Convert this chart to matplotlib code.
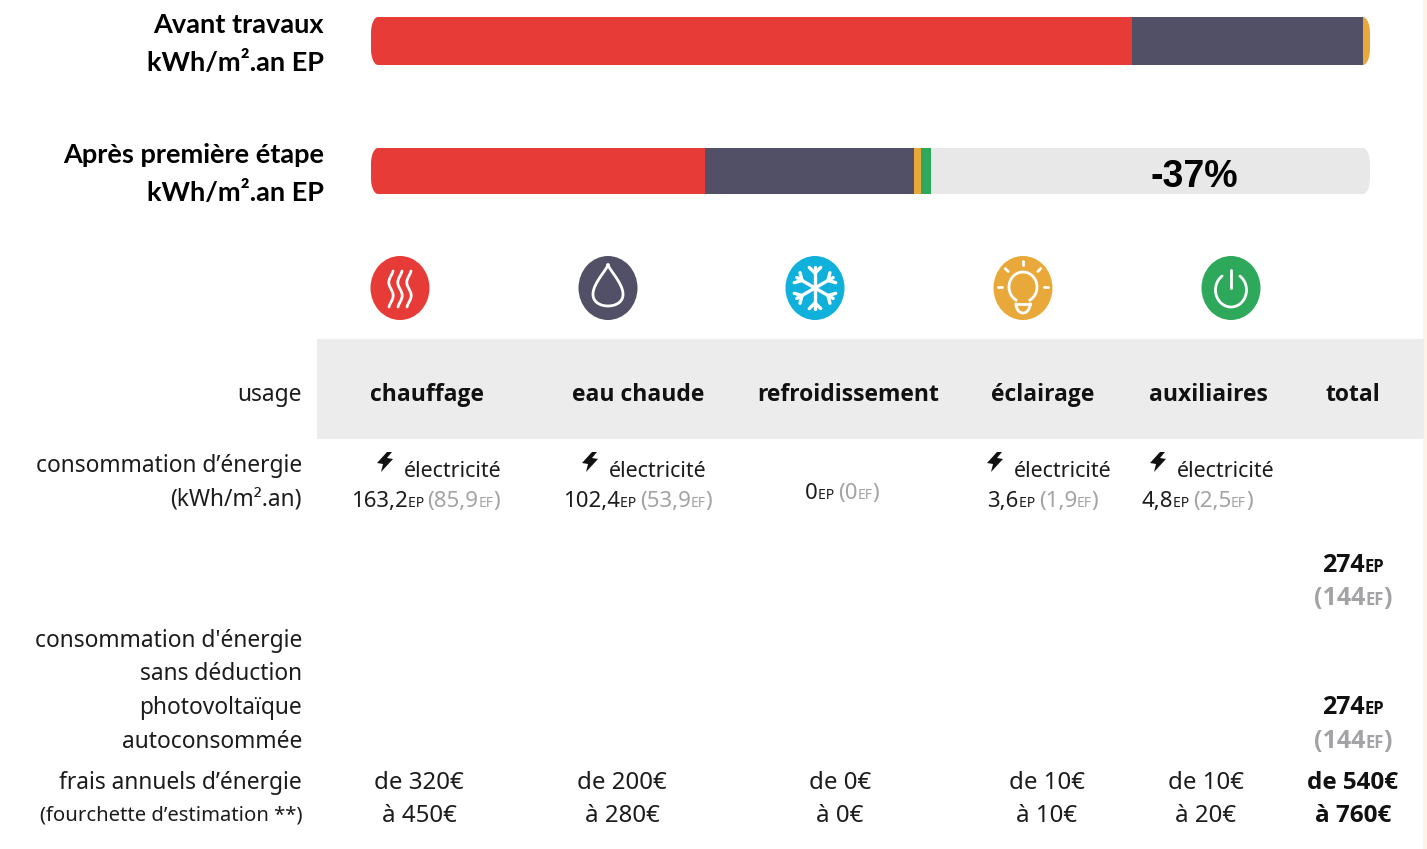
import numpy as np
import matplotlib
matplotlib.use("Agg")
import matplotlib.pyplot as plt
from matplotlib.patches import Ellipse, Polygon, Rectangle

# kWh/m2.an EP per usage
usages = ["chauffage", "eau chaude", "refroidissement", "éclairage", "auxiliaires"]
avant_values = [372.4, 113.0, 0, 3.4, 0]
apres_values = [163.2, 102.4, 0, 3.6, 4.8]
bar_max = 488.8
gain_label = "-37%"

ep_labels = ["163,2", "102,4", "0", "3,6", "4,8"]
ef_labels = ["85,9", "53,9", "0", "1,9", "2,5"]
has_elec = [True, True, False, True, True]
total_ep = "274"
total_ef = "144"

frais_low = ["de 320€", "de 200€", "de 0€", "de 10€", "de 10€"]
frais_high = ["à 450€", "à 280€", "à 0€", "à 10€", "à 20€"]
frais_total = ["de 540€", "à 760€"]

RED = "#e63b36"
DARK = "#525066"
BLUE = "#0fb1dc"
ORANGE = "#e9a93a"
GREEN = "#2ea85a"
GREY = "#a3a3a6"
INK = "#1c1c1c"
colors = {"chauffage": RED, "eau chaude": DARK, "refroidissement": BLUE,
          "éclairage": ORANGE, "auxiliaires": GREEN}

W, H = 1427, 849
TXT = "Noto Sans"
BOLD = "Open Sans"

fig = plt.figure(figsize=(W / 100, H / 100), dpi=100)
ax = fig.add_axes([0, 0, 1, 1])
ax.set_xlim(0, W)
ax.set_ylim(H, 0)
ax.axis("off")
renderer = fig.canvas.get_renderer()


def runs(x, y, parts, align="left"):
    # parts = (text, size, color, weight), laid out one after another on a baseline
    items = [ax.text(0, y, p[0], fontsize=p[1], color=p[2], fontweight=p[3],
                     family=BOLD if p[3] == "bold" else TXT, va="baseline", ha="left") for p in parts]
    widths = [t.get_window_extent(renderer).width for t in items]
    total = sum(widths)
    if align == "center":
        x = x - total / 2
    for t, w in zip(items, widths):
        t.set_x(x)
        x += w


def rounded_end(x0, x1, y0, y1, rx=7, ry=16):
    # outline of a bar with elliptical corners
    t = np.linspace(0, np.pi / 2, 10)
    pts = []
    pts += list(zip(x1 - rx + rx * np.sin(t), y0 + ry - ry * np.cos(t)))
    pts += list(zip(x1 - rx + rx * np.cos(t), y1 - ry + ry * np.sin(t)))
    pts += list(zip(x0 + rx - rx * np.sin(t), y1 - ry + ry * np.cos(t)))
    pts += list(zip(x0 + rx - rx * np.cos(t), y0 + ry - ry * np.sin(t)))
    return np.array(pts)


# bars, in their own axes so widths come from the kWh values
bax = fig.add_axes([371 / W, 0, (1370 - 371) / W, 1])
bax.set_xlim(0, bar_max)
bax.set_ylim(H, 0)
bax.axis("off")
bar_colors = [colors[u] for u in usages]


def stacked(values, y0, y1, track=None):
    clip = Polygon(rounded_end(0, bar_max, y0, y1, 7 * bar_max / 999), closed=True,
                   transform=bax.transData, fc="none", ec="none")
    bax.add_patch(clip)
    if track:
        b = bax.barh((y0 + y1) / 2, bar_max, height=y1 - y0, color=track)
        b[0].set_clip_path(clip)
    left = 0
    for v, c in zip(values, bar_colors):
        if v > 0:
            b = bax.barh((y0 + y1) / 2, v, left=left, height=y1 - y0, color=c, lw=0)
            b[0].set_clip_path(clip)
        left += v


stacked(avant_values, 17, 65)
stacked(apres_values, 148, 194, track="#e8e8e8")
ax.set_zorder(2)
ax.patch.set_alpha(0)
ax.text(1194, 177, gain_label, family="Liberation Sans", fontweight="bold", fontsize=27,
        ha="center", va="center", color="black")

# top labels
for txt, y in [("Avant travaux", 24.5), ("kWh/m².an EP", 62.5),
               ("Après première étape", 154.5), ("kWh/m².an EP", 192.5)]:
    ax.text(324, y, txt, family="Lato", fontweight="bold", fontsize=19.5, ha="right",
            va="center", color="black")

# page edge and header band
ax.add_patch(Rectangle((1423, 0), 4, H, fc="#fdf3e8", ec="none"))
ax.add_patch(Rectangle((317, 339), 1107, 100, fc="#ececec", ec="none"))

# icons
icon_x = [400, 608, 815, 1023, 1231]
icon_y = 288
for x, u in zip(icon_x, usages):
    ax.add_patch(Ellipse((x, icon_y), 59, 64, fc=colors[u], ec="none"))

x = icon_x[0]
s = np.linspace(-18, 18, 60)
for dx in (-9, 0, 9):
    ax.plot(x + dx + 2.2 * np.sin(s / 4.2), icon_y + 1 + s, color="white", lw=2, solid_capstyle="round")

x = icon_x[1]
t = np.linspace(0, 2 * np.pi, 80)
ax.plot(x + 21.4 * np.sin(t) * np.sin(t / 2) ** 1.5, icon_y - 2.5 - 20.5 * np.cos(t), color="white", lw=2)

x = icon_x[2]
for a in np.arange(6) * np.pi / 3 + np.pi / 2:
    ca, sa = np.cos(a), np.sin(a)
    ax.plot([x, x + 21 * ca], [icon_y, icon_y - 21 * sa], color="white", lw=2.4, solid_capstyle="round")
    for d in (-0.8, 0.8):
        ax.plot([x + 15 * ca, x + 15 * ca + 8 * np.cos(a + d)],
                [icon_y - 15 * sa, icon_y - 15 * sa - 8 * np.sin(a + d)],
                color="white", lw=2.4, solid_capstyle="round")

x = icon_x[3]
t = np.radians(np.linspace(-60, 240, 60))
ax.plot(x + 14 * np.cos(t), icon_y - 1 - 15 * np.sin(t), color="white", lw=2)
t = np.radians(np.linspace(180, 360, 30))
ax.plot(x + 7 * np.cos(t), icon_y + 16 - 9 * np.sin(t), color="white", lw=2)
ax.plot([x - 7, x + 7], [icon_y + 16, icon_y + 16], color="white", lw=2)
for a in (0, 45, 90, 135, 180):
    r = np.radians(a)
    ax.plot([x + 21 * np.cos(r), x + 25 * np.cos(r)],
            [icon_y - 1 - 22 * np.sin(r), icon_y - 1 - 26 * np.sin(r)],
            color="white", lw=2, solid_capstyle="round")

x = icon_x[4]
t = np.radians(np.linspace(-235, 55, 60))
ax.plot(x + 15.5 * np.cos(t), icon_y + 2 - 17 * np.sin(t), color="white", lw=2, solid_capstyle="round")
ax.plot([x, x], [icon_y - 18, icon_y], color="white", lw=2, solid_capstyle="round")

# table header
header_x = [427, 638, 848, 1043, 1208, 1353]
for x, txt in zip(header_x, usages + ["total"]):
    ax.text(x, 395, txt, family=BOLD, fontweight="bold", fontsize=16.5, ha="center", va="center", color="#111111")

# row labels
LABEL = 16.4
for txt, y, size in [("usage", 395, LABEL), ("consommation d’énergie", 466, LABEL),
                     ("(kWh/m².an)", 499, LABEL), ("consommation d'énergie", 641, LABEL),
                     ("sans déduction", 674, LABEL), ("photovoltaïque", 708, LABEL),
                     ("autoconsommée", 742, LABEL), ("frais annuels d’énergie", 783, LABEL),
                     ("(fourchette d’estimation **)", 815, 14.6)]:
    ax.text(302, y, txt, family=TXT, fontsize=size, ha="right", va="center", color=INK)


def bolt(cx, cy):
    shape = np.array([[2, -10], [-8, 1], [-2, 2], [-4, 10], [8, -3], [2, -4], [7, -10]])
    ax.add_patch(Polygon(shape + [cx, cy], closed=True, fc="#111111", ec="none"))


# consommation cells
elec_text_x = [453, 658, 0, 1063, 1226]
bolt_x = [385, 590, 0, 995, 1158]
value_x = [425.5, 637.5, 842, 1043, 1197]
for i in range(5):
    if has_elec[i]:
        ax.text(elec_text_x[i], 471, "électricité", family=TXT, fontsize=15.5, ha="center", va="center", color=INK)
        bolt(bolt_x[i], 462)
    y = 507 if has_elec[i] else 499
    runs(value_x[i], y, [(ep_labels[i], 16, INK, "normal"), ("EP ", 10, INK, "normal"),
                         ("(" + ef_labels[i], 16, GREY, "normal"), ("EF", 10, GREY, "normal"),
                         (")", 16, GREY, "normal")], align="center")

# totals (same figures printed twice in the source)
for y1, y2 in [(572, 605), (714, 748)]:
    runs(1353, y1, [(total_ep, 18, "#111111", "bold"), ("EP", 12, "#111111", "bold")], align="center")
    runs(1353, y2, [("(" + total_ef, 18, GREY, "bold"), ("EF", 12, GREY, "bold"), (")", 18, GREY, "bold")], align="center")

# frais
frais_x = [419, 622, 840, 1047, 1206]
for x, lo, hi in zip(frais_x, frais_low, frais_high):
    ax.text(x, 783, lo, family=TXT, fontsize=17.3, ha="center", va="center", color=INK)
    ax.text(x, 816, hi, family=TXT, fontsize=17.3, ha="center", va="center", color=INK)
ax.text(1353, 783, frais_total[0], family=BOLD, fontsize=17.5, fontweight="bold", ha="center", va="center", color="#111111")
ax.text(1353, 816, frais_total[1], family=BOLD, fontsize=17.5, fontweight="bold", ha="center", va="center", color="#111111")

fig.savefig("out.png", dpi=100)
